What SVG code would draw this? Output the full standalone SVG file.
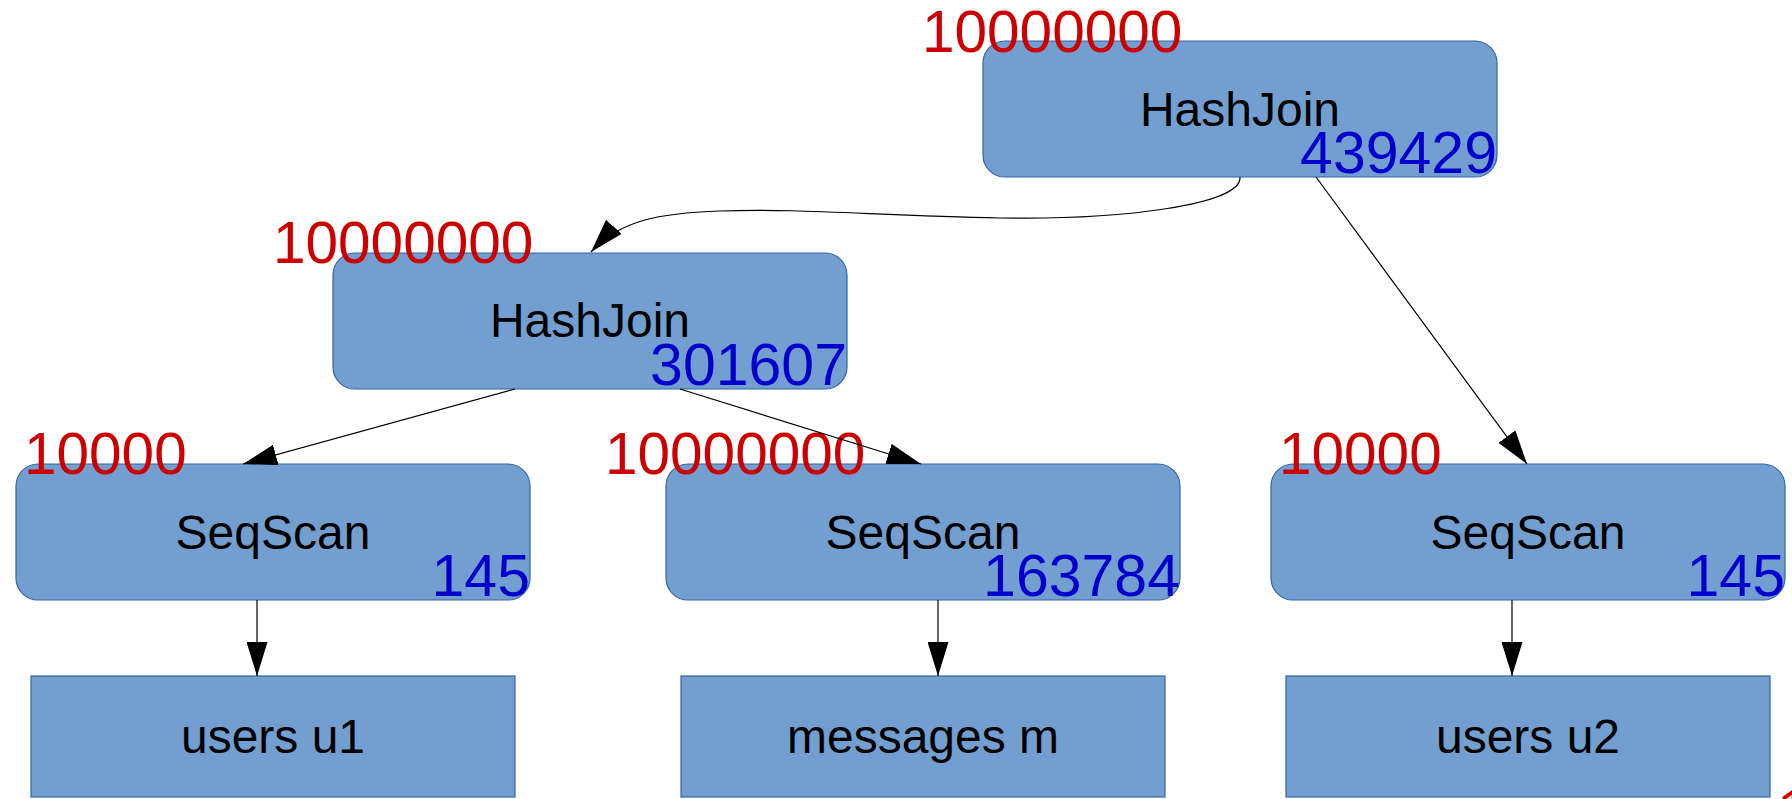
<svg xmlns="http://www.w3.org/2000/svg" width="1792" height="799" viewBox="0 0 1792 799">
  <style>
    .op { fill: #729fcf; stroke: #3465a4; stroke-width: 1.2; }
    .name { font-family: "Liberation Sans", Arial, sans-serif; font-size: 48px; fill: #000; text-anchor: middle; }
    .rows { font-family: "Liberation Sans", Arial, sans-serif; font-size: 58.5px; fill: #cc0000; }
    .cost { font-family: "Liberation Sans", Arial, sans-serif; font-size: 59px; fill: #0000cc; text-anchor: end; }
    .edge { fill: none; stroke: #000; stroke-width: 1.2; marker-end: url(#arrow); }
  </style>
  <defs>
    <marker id="arrow" markerUnits="userSpaceOnUse" markerWidth="34" markerHeight="21" viewBox="0 0 34 21" refX="34" refY="10.5" orient="auto">
      <path d="M0,0 L34,10.5 L0,21 Z" fill="#000"/>
    </marker>
  </defs>

  <!-- plan operators -->
  <g id="hashjoin-top">
    <rect class="op" x="983" y="41" width="514" height="136" rx="22" ry="22"/>
    <text class="name" x="1240" y="126">HashJoin</text>
    <text class="rows" x="922" y="52">10000000</text>
    <text class="cost" x="1497" y="173">439429</text>
  </g>
  <g id="hashjoin-mid">
    <rect class="op" x="333" y="253" width="514" height="136" rx="22" ry="22"/>
    <text class="name" x="590" y="337">HashJoin</text>
    <text class="rows" x="273" y="263">10000000</text>
    <text class="cost" x="847" y="385">301607</text>
  </g>
  <g id="seqscan-u1">
    <rect class="op" x="16" y="464" width="514" height="136" rx="22" ry="22"/>
    <text class="name" x="273" y="549">SeqScan</text>
    <text class="rows" x="24" y="474">10000</text>
    <text class="cost" x="530" y="596">145</text>
  </g>
  <g id="seqscan-m">
    <rect class="op" x="666" y="464" width="514" height="136" rx="22" ry="22"/>
    <text class="name" x="923" y="549">SeqScan</text>
    <text class="rows" x="605" y="474">10000000</text>
    <text class="cost" x="1180" y="596">163784</text>
  </g>
  <g id="seqscan-u2">
    <rect class="op" x="1271" y="464" width="514" height="136" rx="22" ry="22"/>
    <text class="name" x="1528" y="549">SeqScan</text>
    <text class="rows" x="1279" y="474">10000</text>
    <text class="cost" x="1785" y="596">145</text>
  </g>

  <!-- base tables -->
  <g id="table-u1">
    <rect class="op" x="31" y="676" width="484" height="121"/>
    <text class="name" x="273" y="753">users u1</text>
  </g>
  <g id="table-m">
    <rect class="op" x="681" y="676" width="484" height="121"/>
    <text class="name" x="923" y="753">messages m</text>
  </g>
  <g id="table-u2">
    <rect class="op" x="1286" y="676" width="484" height="121"/>
    <text class="name" x="1528" y="753">users u2</text>
  </g>

  <!-- row count of an operator below the visible area -->
  <text class="rows" x="1777" y="831">1</text>

  <!-- connectors -->
  <g id="edges">
    <path class="edge" d="M1240,177 C1242,205 1120,220 1000,218 C880,216 800,208 720,211 C660,213 620,220 591,252"/>
    <line class="edge" x1="1316" y1="177" x2="1527" y2="464"/>
    <line class="edge" x1="515" y1="389" x2="243" y2="464"/>
    <line class="edge" x1="680" y1="389" x2="921" y2="464"/>
    <line class="edge" x1="257" y1="600" x2="257" y2="676"/>
    <line class="edge" x1="938" y1="600" x2="938" y2="676"/>
    <line class="edge" x1="1512" y1="600" x2="1512" y2="676"/>
  </g>
</svg>
